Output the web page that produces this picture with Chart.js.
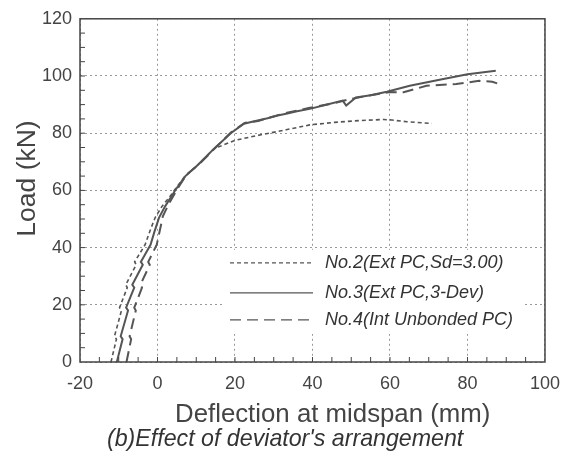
<!DOCTYPE html>
<html>
<head>
<meta charset="utf-8">
<script src="https://cdn.jsdelivr.net/npm/chart.js@4/dist/chart.umd.min.js"></script>
<style>
  html, body { margin: 0; padding: 0; background: #fff; }
  #wrap { width: 571px; height: 455px; }
</style>
</head>
<body>
<div id="wrap"><canvas id="myChart" width="571" height="455"></canvas></div>
<script>
// deflection (mm) / load (kN)
const no2X = [-12, -10.6, -11.1, -9.3, -9.8, -7.8, -8.2, -5.5, -5.9, -3.2, -1.9, -0.6, 1.2, 3, 4.6, 7, 10.4, 14.6, 20, 25.8, 33.2, 39.3, 45.7, 52, 58.4, 60.5, 64.4, 70.8];
const no2Y = [0, 8, 9, 18, 19, 26, 27, 34, 35, 41, 46, 50.5, 54.5, 57.5, 60.5, 64.8, 68.9, 74.6, 77.5, 79.2, 81.2, 82.9, 83.8, 84.4, 84.8, 84.6, 84, 83.4];

const no3X = [-10.5, -9, -9.5, -7.6, -8.1, -6, -6.5, -3.8, -4.3, -1.8, -0.8, 0.4, 2, 3.4, 4.8, 7.2, 10.4, 14.6, 18.9, 22.3, 25, 28.4, 31, 33.2, 36, 39.3, 43, 47.8, 48.7, 51.2, 55, 59.2, 65.1, 72.8, 80, 87.3];
const no3Y = [0, 8, 9, 18, 19, 26, 27, 34, 35, 41, 45.5, 50.5, 54.5, 57.5, 60.5, 65, 68.9, 74.6, 80, 83.3, 84.2, 85.2, 86.2, 86.8, 87.7, 88.5, 89.8, 91.4, 89.7, 92.5, 93.3, 94.5, 96.6, 98.7, 100.6, 101.8];

const no4X = [-8, -6.8, -7.2, -5.6, -6, -4, -4.4, -2, -2.4, -0.2, 0.6, 1.4, 2.8, 4.9, 7.5, 11, 15, 19, 22.5, 26, 29, 33, 39, 45, 50, 55, 60, 63.5, 69.4, 77.1, 83, 86.4, 88.1];
const no4Y = [0, 8, 9, 18, 19, 26, 27, 34, 35, 41, 46, 51, 55, 60, 65.5, 69.5, 75, 80.3, 83.6, 84.3, 85.5, 87, 88.8, 90.3, 92, 93.3, 94.4, 94.3, 96.6, 97.2, 98.3, 98, 97.2];

const seriesNames = ['No.2(Ext PC,Sd=3.00)', 'No.3(Ext PC,3-Dev)', 'No.4(Int Unbonded PC)'];
const xTicks = [-20, 0, 20, 40, 60, 80, 100];
const yTicks = [0, 20, 40, 60, 80, 100, 120];
const xTitle = 'Deflection at midspan (mm)';
const yTitle = 'Load (kN)';
const caption = "(b)Effect of deviator's arrangement";

function pts(xs, ys) {
  return xs.map((x, i) => ({ x: x, y: ys[i] }));
}

const ink = '#555';
const dashes = [[4, 3], [], [11, 6]];
const face = '"Liberation Sans", Arial, sans-serif';

// box, inner minor ticks, legend and titles
const framePlugin = {
  id: 'frame',
  afterDatasetsDraw(chart) {
    const ctx = chart.ctx;
    const a = chart.chartArea;
    const xs = chart.scales.x, ys = chart.scales.y;
    ctx.save();
    ctx.strokeStyle = '#444';
    ctx.lineWidth = 1.5;
    ctx.setLineDash([]);
    ctx.strokeRect(a.left, a.top, a.right - a.left, a.bottom - a.top);
    ctx.lineWidth = 1;
    ctx.beginPath();
    for (let v = -15; v < 100; v += 5) {
      const p = xs.getPixelForValue(v);
      ctx.moveTo(p, a.bottom);
      ctx.lineTo(p, a.bottom - 5);
    }
    for (let v = 5; v < 120; v += 5) {
      const p = ys.getPixelForValue(v);
      ctx.moveTo(a.left, p);
      ctx.lineTo(a.left + 5, p);
    }
    ctx.stroke();

    // legend
    const lx = a.left + 150, lw = 83;
    const rows = [a.top + 244, a.top + 274, a.top + 301];
    ctx.fillStyle = '#fff';
    ctx.fillRect(lx - 8, rows[0] - 13, 300, rows[2] - rows[0] + 27);
    ctx.font = 'italic 18px ' + face;
    ctx.textBaseline = 'middle';
    rows.forEach((y, i) => {
      ctx.strokeStyle = ink;
      ctx.lineWidth = 1.3;
      ctx.setLineDash(dashes[i]);
      ctx.beginPath();
      ctx.moveTo(lx, y);
      ctx.lineTo(lx + lw, y);
      ctx.stroke();
      ctx.setLineDash([]);
      ctx.fillStyle = '#333';
      ctx.fillText(seriesNames[i], lx + lw + 12, y);
    });

    // axis titles and caption
    ctx.textBaseline = 'alphabetic';
    ctx.textAlign = 'left';
    ctx.fillStyle = '#444';
    ctx.font = '25.8px ' + face;
    ctx.fillText(xTitle, 175, 422);
    ctx.fillStyle = '#333';
    ctx.font = 'italic 23.2px ' + face;
    ctx.fillText(caption, 107, 446);
    ctx.fillStyle = '#444';
    ctx.font = '26.5px ' + face;
    ctx.translate(27.5, 178.5);
    ctx.rotate(-Math.PI / 2);
    ctx.textAlign = 'center';
    ctx.textBaseline = 'middle';
    ctx.fillText(yTitle, 0, 0);
    ctx.restore();
  }
};

const ctx = document.getElementById('myChart').getContext('2d');
new Chart(ctx, {
  type: 'scatter',
  data: {
    datasets: [
      { label: seriesNames[0], data: pts(no2X, no2Y), showLine: true, borderColor: ink, borderWidth: 1.6, borderDash: dashes[0], pointRadius: 0, tension: 0 },
      { label: seriesNames[1], data: pts(no3X, no3Y), showLine: true, borderColor: ink, borderWidth: 2, pointRadius: 0, tension: 0 },
      { label: seriesNames[2], data: pts(no4X, no4Y), showLine: true, borderColor: ink, borderWidth: 2, borderDash: dashes[2], pointRadius: 0, tension: 0 }
    ]
  },
  options: {
    responsive: false,
    animation: false,
    layout: { padding: { top: 16, right: 21, left: 0, bottom: 0 } },
    plugins: {
      legend: { display: false },
      tooltip: { enabled: false },
      title: { display: false }
    },
    scales: {
      x: {
        type: 'linear',
        min: -20,
        max: 100,
        afterBuildTicks: s => { s.ticks = xTicks.map(v => ({ value: v })); },
        afterFit: s => { s.height = 93; },
        ticks: { color: '#444', padding: 11, font: { family: face, size: 18 } },
        grid: { color: '#999', lineWidth: 1, drawTicks: false },
        border: { display: false, dash: [2, 3] },
        title: { display: false }
      },
      y: {
        type: 'linear',
        min: 0,
        max: 120,
        afterBuildTicks: s => { s.ticks = yTicks.map(v => ({ value: v })); },
        afterFit: s => { s.width = 80; },
        ticks: { color: '#444', padding: 8, font: { family: face, size: 18 } },
        grid: { color: '#999', lineWidth: 1, drawTicks: false },
        border: { display: false, dash: [2, 3] },
        title: { display: false }
      }
    }
  },
  plugins: [framePlugin]
});
</script>
</body>
</html>
